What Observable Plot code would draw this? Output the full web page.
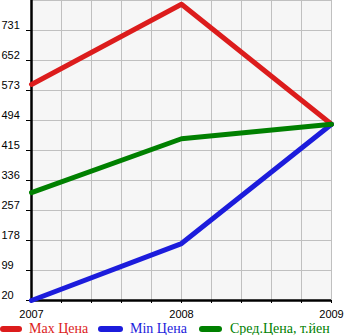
<!DOCTYPE html>
<html>
<head>
<meta charset="utf-8">
<script src="https://cdn.jsdelivr.net/npm/d3@7"></script>
<script src="https://cdn.jsdelivr.net/npm/@observablehq/plot@0.6"></script>
<style>
  body { margin: 0; background: white; }
  #chart { width: 345px; height: 318px; }
  #chart svg { display: block; }
  .legend { position: relative; width: 345px; height: 17px; font-family: "Liberation Serif", "Times New Roman", serif; font-size: 14px; }
  .sw { position: absolute; top: 8px; height: 6px; border-radius: 3px; }
  .lt { position: absolute; top: 2px; line-height: 17px; white-space: nowrap; }
</style>
</head>
<body>
<div id="chart"></div>
<script>
const years = [2007, 2008, 2009];
const maxPrice = [589, 800, 484];
const minPrice = [20, 170, 484];
const avgPrice = [304, 446, 484];

const seriesNames = ["Max Цена", "Min Цена", "Сред.Цена, т.йен"];
const seriesColors = ["#dc1c1c", "#1c1cdc", "#008000"];

const yTickValues = [20, 99, 178, 257, 336, 415, 494, 573, 652, 731];
const yGridValues = [20, 99, 178, 257, 336, 415, 494, 573, 652, 731, 810];
const xGridValues = [2007, 2007.2, 2007.4, 2007.6, 2007.8, 2008, 2008.2, 2008.4, 2008.6, 2008.8, 2009];
const xLabelValues = [2007, 2008, 2009];

const mk = (vals) => years.map((y, i) => ({year: y, value: vals[i]}));
const seriesData = [mk(maxPrice), mk(minPrice), mk(avgPrice)];

const chart = Plot.plot({
  width: 345,
  height: 318,
  marginTop: 0,
  marginBottom: 18,
  marginLeft: 31,
  marginRight: 14,
  style: {fontFamily: "'Liberation Sans', Arial, sans-serif", fontSize: "11px", color: "black", background: "white", overflow: "visible"},
  x: {domain: [2007, 2009]},
  y: {domain: [20, 810]},
  marks: [
    Plot.frame({fill: "#f6f6f6", stroke: "none"}),
    Plot.gridX(xGridValues, {stroke: "#c0c0c0", strokeOpacity: 1}),
    Plot.gridY(yGridValues, {stroke: "#c0c0c0", strokeOpacity: 1}),
    Plot.axisX(xGridValues, {tickSize: 3, tickPadding: 7, tickFormat: d => xLabelValues.find(v => Math.abs(v - d) < 1e-6) !== undefined ? String(Math.round(d)) : "", label: null}),
    Plot.axisY(yTickValues, {tickSize: 5, tickFormat: () => "", label: null}),
    Plot.axisY(yTickValues, {tickSize: 0, tickPadding: 0, textAnchor: "start", dx: -30, dy: -5, label: null}),
    Plot.ruleY([20], {stroke: "black", strokeWidth: 2.5}),
    Plot.ruleX([2007], {stroke: "black", strokeWidth: 2.5}),
    ...seriesData.map((d, i) => Plot.line(d, {x: "year", y: "value", stroke: seriesColors[i], strokeWidth: 5, strokeLinecap: "round", strokeLinejoin: "round"}))
  ]
});
document.getElementById("chart").append(chart);

const legend = document.createElement("div");
legend.className = "legend";
const swLeft = [0, 98, 199];
const swWidth = [22, 25, 23];
const textLeft = [29, 130, 230];
seriesNames.forEach((name, i) => {
  const sw = document.createElement("div");
  sw.className = "sw";
  sw.style.left = swLeft[i] + "px";
  sw.style.width = swWidth[i] + "px";
  sw.style.background = seriesColors[i];
  legend.append(sw);
  const t = document.createElement("div");
  t.className = "lt";
  t.style.left = textLeft[i] + "px";
  t.style.color = seriesColors[i];
  t.textContent = name;
  legend.append(t);
});
document.body.append(legend);
</script>
</body>
</html>
